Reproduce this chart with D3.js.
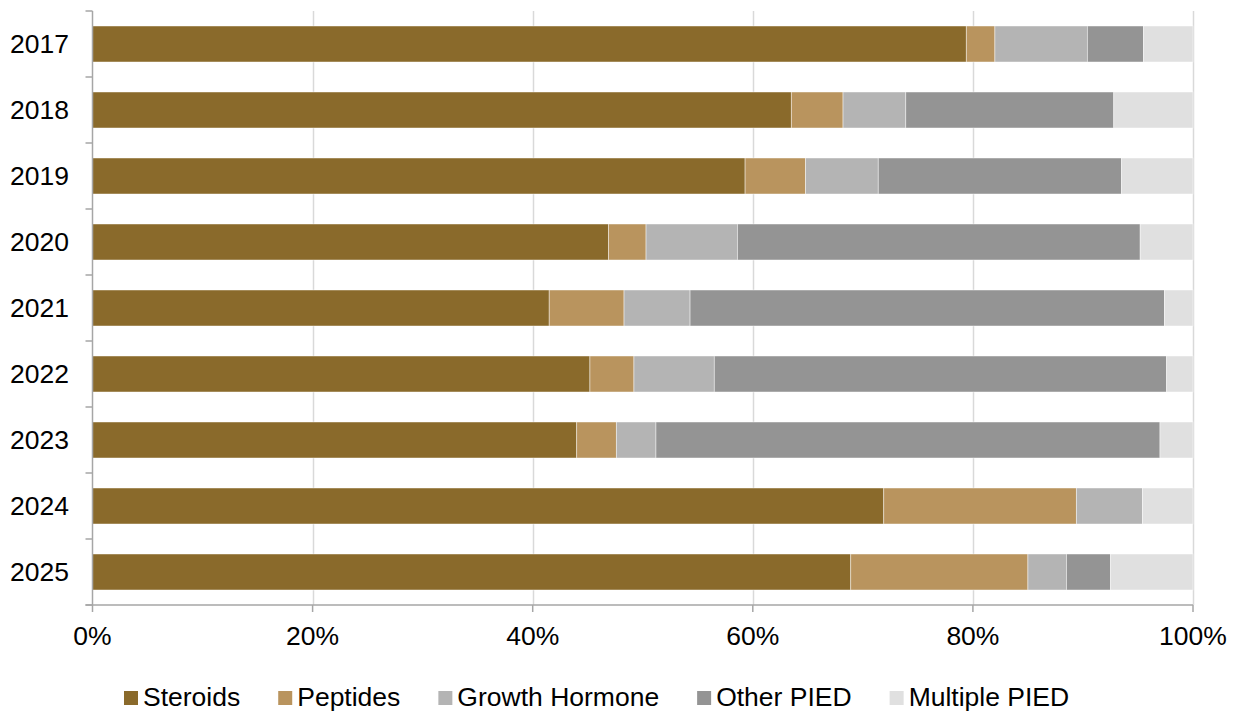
<!DOCTYPE html>
<html>
<head>
<meta charset="utf-8">
<script src="https://cdn.jsdelivr.net/npm/d3@7"></script>
<style>
  html, body { margin: 0; padding: 0; background: #fff; }
  svg { display: block; font-family: "Liberation Sans", Arial, sans-serif; }
</style>
</head>
<body>
<svg id="chart" width="1238" height="716"></svg>
<script>
// Share of seizures by substance type, per year (percent of total)
const years = ["2017", "2018", "2019", "2020", "2021", "2022", "2023", "2024", "2025"];
const seriesNames = ["Steroids", "Peptides", "Growth Hormone", "Other PIED", "Multiple PIED"];
const steroids      = [79.4, 63.5, 59.3, 46.9, 41.5, 45.2, 44.0, 71.9, 68.9];
const peptides      = [ 2.6,  4.7,  5.5,  3.4,  6.8,  4.0,  3.6, 17.5, 16.1];
const growthHormone = [ 8.4,  5.7,  6.6,  8.3,  6.0,  7.3,  3.6,  6.0,  3.5];
const otherPied     = [ 5.1, 18.9, 22.1, 36.6, 43.1, 41.1, 45.8,  0.0,  4.0];
const multiplePied  = [ 4.5,  7.2,  6.5,  4.8,  2.6,  2.4,  3.0,  4.6,  7.5];
const xTicks = [0, 20, 40, 60, 80, 100];
const colors = ["#8a6a2b", "#b9945e", "#b4b4b4", "#949494", "#e0e0e0"];

const seriesValues = [steroids, peptides, growthHormone, otherPied, multiplePied];
const rows = years.map((y, i) => {
  const r = { year: y };
  seriesNames.forEach((s, k) => { r[s] = seriesValues[k][i]; });
  return r;
});

const svg = d3.select("#chart");
const plot = { left: 92.5, right: 1193, top: 11, bottom: 605 };
const fontSize = 26.5;

const x = d3.scaleLinear().domain([0, 100]).range([plot.left, plot.right]);
const y = d3.scaleBand().domain(years).range([plot.top, plot.bottom])
  .paddingInner(30 / 66).paddingOuter(15 / 66);

// vertical gridlines
svg.append("g").selectAll("line")
  .data(xTicks.filter(t => t > 0))
  .join("line")
  .attr("x1", d => Math.round(x(d)) + 0.5).attr("x2", d => Math.round(x(d)) + 0.5)
  .attr("y1", plot.top).attr("y2", plot.bottom)
  .attr("stroke", "#d9d9d9").attr("stroke-width", 1.5);

// stacked bars
const stacked = d3.stack().keys(seriesNames)(rows);
svg.append("g").selectAll("g")
  .data(stacked)
  .join("g")
  .attr("fill", (d, i) => colors[i])
  .selectAll("rect")
  .data(d => d)
  .join("rect")
  .attr("x", d => x(d[0]))
  .attr("width", d => Math.max(0, x(d[1]) - x(d[0])))
  .attr("y", d => y(d.data.year))
  .attr("height", y.bandwidth())
  .attr("stroke", "#ffffff").attr("stroke-width", 0.75).attr("stroke-opacity", 0.6);

// left (category) axis: line, boundary ticks, year labels
const axisColor = "#a6a6a6";
const leftAxis = svg.append("g");
leftAxis.append("line")
  .attr("x1", plot.left).attr("x2", plot.left)
  .attr("y1", plot.top).attr("y2", plot.bottom)
  .attr("stroke", axisColor).attr("stroke-width", 1.5);
const boundaries = years.map(yr => y(yr) - y.step() * y.paddingInner() / 2)
  .concat([plot.bottom]);
boundaries[0] = plot.top;
leftAxis.selectAll("line.tick")
  .data(boundaries)
  .join("line").attr("class", "tick")
  .attr("x1", plot.left - 7).attr("x2", plot.left)
  .attr("y1", d => d).attr("y2", d => d)
  .attr("stroke", axisColor).attr("stroke-width", 1.5);
leftAxis.selectAll("text")
  .data(years)
  .join("text")
  .attr("x", 69)
  .attr("y", d => y(d) + y.bandwidth() / 2)
  .attr("dy", "0.35em")
  .attr("text-anchor", "end")
  .attr("font-size", fontSize)
  .attr("fill", "#000")
  .text(d => d);

// bottom (value) axis
const bottomAxis = svg.append("g");
bottomAxis.append("line")
  .attr("x1", plot.left - 7).attr("x2", plot.right)
  .attr("y1", plot.bottom).attr("y2", plot.bottom)
  .attr("stroke", axisColor).attr("stroke-width", 1.5);
bottomAxis.selectAll("line.tick")
  .data(xTicks)
  .join("line").attr("class", "tick")
  .attr("x1", d => x(d)).attr("x2", d => x(d))
  .attr("y1", plot.bottom).attr("y2", plot.bottom + 7)
  .attr("stroke", axisColor).attr("stroke-width", 1.5);
bottomAxis.selectAll("text")
  .data(xTicks)
  .join("text")
  .attr("x", d => x(d))
  .attr("y", 645)
  .attr("text-anchor", "middle")
  .attr("font-size", fontSize)
  .attr("fill", "#000")
  .text(d => d + "%");

// legend
const legend = svg.append("g");
let lx = 124;
seriesNames.forEach((name, i) => {
  legend.append("rect")
    .attr("x", lx).attr("y", 691)
    .attr("width", 14).attr("height", 14)
    .attr("fill", colors[i]);
  const t = legend.append("text")
    .attr("x", lx + 19).attr("y", 706)
    .attr("font-size", fontSize)
    .attr("fill", "#000")
    .text(name);
  lx += 19 + t.node().getComputedTextLength() + 38;
});
</script>
</body>
</html>
